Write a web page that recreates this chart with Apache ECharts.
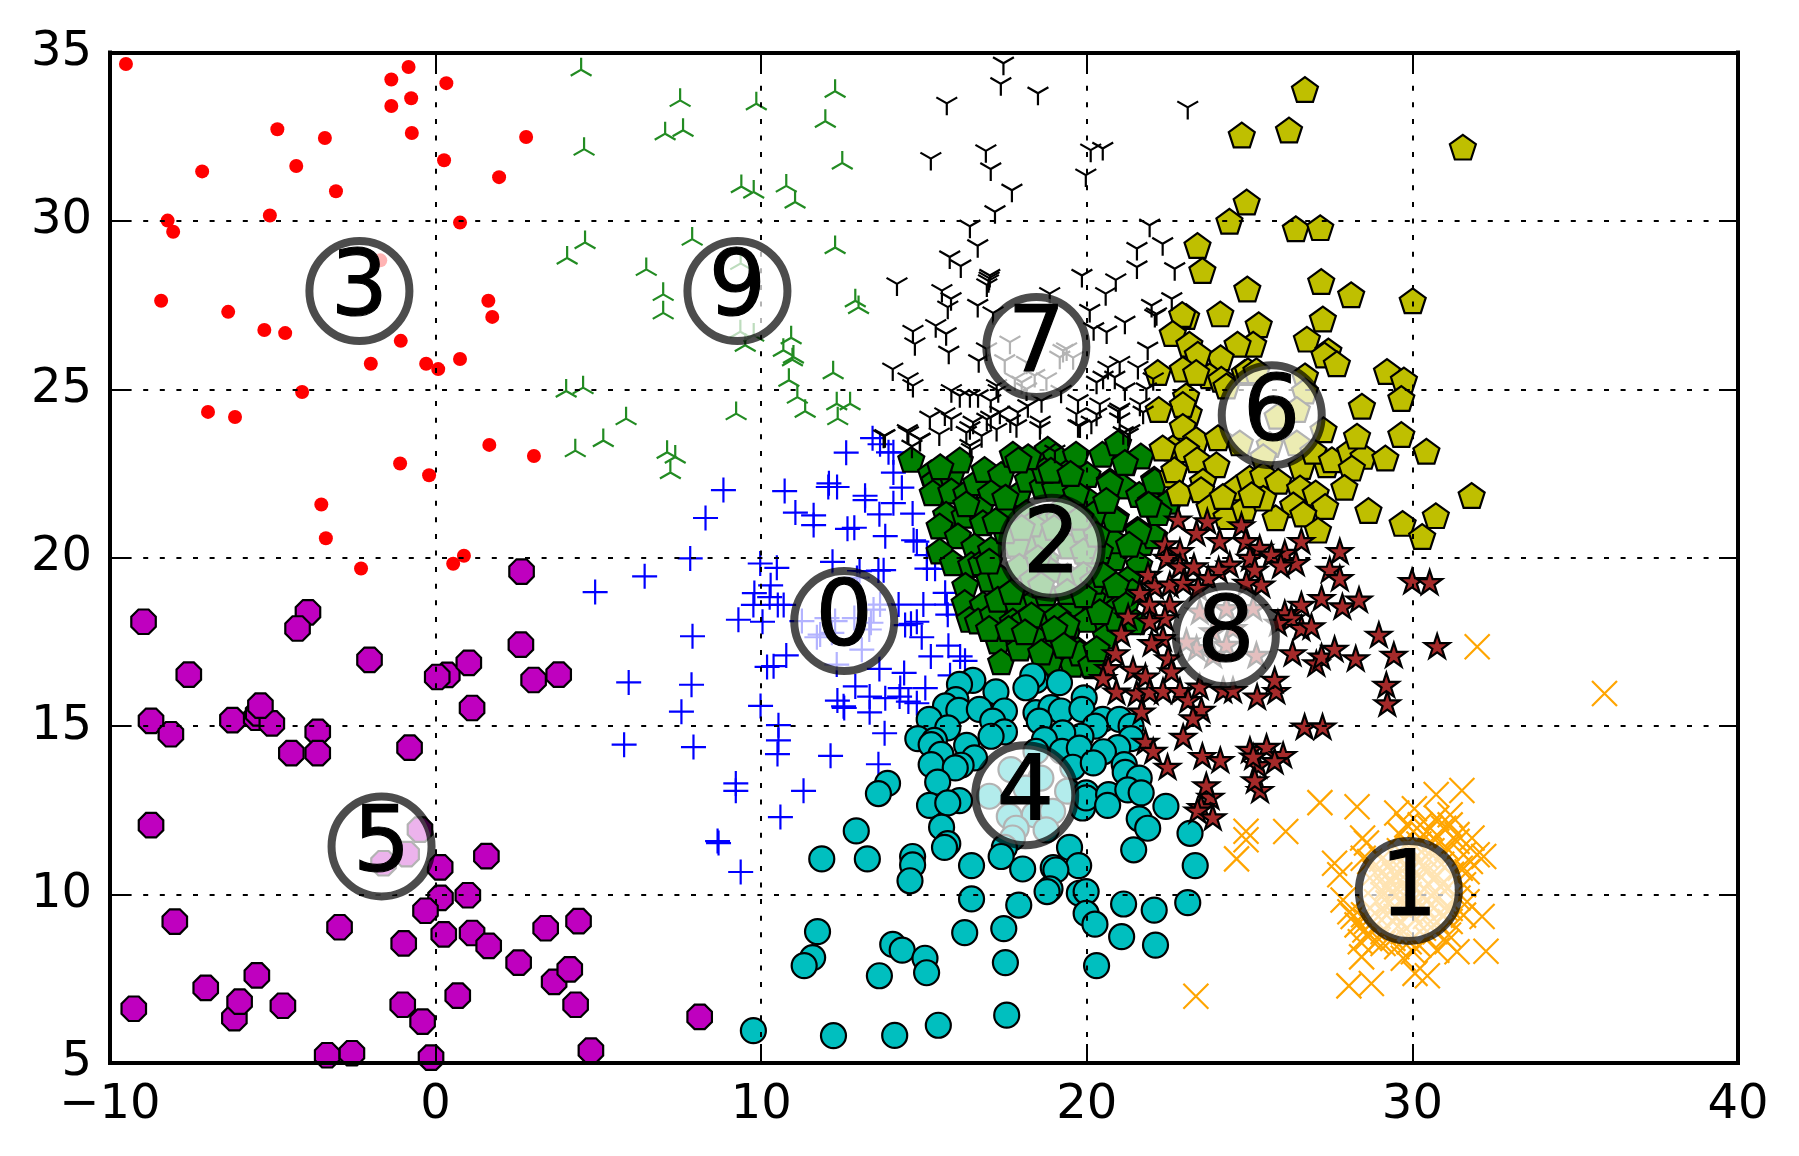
<!DOCTYPE html>
<html><head><meta charset="utf-8">
<style>html,body{margin:0;padding:0;background:#fff}#c{width:1799px;height:1156px}</style>
<script src="https://cdn.jsdelivr.net/npm/echarts@6/dist/echarts.min.js"></script>
</head><body><div id="c"></div>
<script>
const xTicks = [-10,0,10,20,30,40];
const yTicks = [5,10,15,20,25,30,35];
const cluster0 = [[8.84,22.01],[8.29,21.18],[7.82,19.98],[6.42,19.45],[4.90,18.98],[10.72,21.98],[12.61,23.12],[13.42,23.55],[13.65,23.37],[13.91,23.13],[14.06,23.13],[14.06,22.53],[14.32,22.08],[12.08,22.21],[12.33,22.10],[12.06,22.10],[13.19,21.84],[13.19,21.71],[14.06,21.62],[13.63,21.29],[14.65,21.31],[11.05,21.34],[11.61,21.26],[11.61,20.97],[12.65,20.86],[12.86,20.89],[13.81,20.64],[14.68,20.52],[14.78,20.48],[15.09,20.08],[9.97,19.83],[10.48,19.70],[12.19,19.88],[13.02,19.60],[13.60,19.62],[13.76,19.63],[15.09,19.68],[15.34,19.67],[10.29,19.18],[9.79,18.95],[10.26,18.83],[9.76,18.60],[10.51,18.60],[10.69,18.60],[9.30,18.16],[10.04,18.10],[7.89,17.67],[10.77,17.10],[10.38,16.78],[10.18,16.76],[5.93,16.30],[7.86,16.23],[7.55,15.43],[5.79,14.45],[7.92,14.38],[9.98,15.60],[10.53,15.03],[10.53,14.58],[10.50,14.17],[12.13,14.12],[13.79,14.79],[13.60,13.87],[9.22,13.30],[9.22,13.08],[11.30,13.08],[11.25,18.12],[12.02,18.21],[12.27,18.12],[12.86,18.21],[13.65,18.61],[13.45,18.46],[13.37,18.07],[13.32,17.87],[11.81,17.72],[11.71,17.64],[12.17,17.77],[13.09,17.27],[12.32,16.83],[12.94,19.40],[14.22,18.61],[14.98,18.61],[15.65,18.96],[15.70,18.61],[15.73,18.31],[14.42,18.00],[14.60,18.04],[14.78,18.10],[14.93,17.64],[15.21,17.07],[15.75,17.39],[16.11,17.07],[16.26,16.94],[15.80,16.51],[13.63,16.70],[14.39,16.58],[15.04,16.13],[12.89,16.18],[12.34,15.76],[12.53,15.59],[12.55,15.54],[13.33,15.88],[13.33,15.41],[13.81,15.83],[14.27,16.13],[14.25,15.88],[14.52,15.73],[14.78,15.68],[10.59,12.30],[8.66,11.59],[8.69,11.53],[9.37,10.67]];
const cluster1 = [[31.99,17.36],[35.90,15.97],[27.16,12.73],[28.30,12.61],[26.11,11.87],[24.89,11.88],[24.89,11.63],[24.60,11.06],[23.35,6.98],[30.73,12.97],[31.52,13.09],[29.52,12.42],[30.06,12.55],[31.16,12.37],[28.47,11.68],[28.59,11.53],[30.55,11.97],[29.83,12.07],[30.96,11.97],[31.16,12.07],[30.34,11.78],[30.70,11.63],[31.83,11.68],[31.37,11.58],[31.06,11.38],[32.19,11.13],[31.99,11.18],[31.78,10.98],[31.57,11.18],[31.68,10.68],[31.57,10.29],[27.61,10.93],[27.77,10.59],[28.49,11.08],[27.87,9.84],[28.18,9.35],[28.54,8.95],[28.64,8.75],[28.44,8.15],[28.05,7.29],[28.74,7.36],[29.72,8.11],[30.08,7.66],[30.46,7.59],[30.03,8.30],[29.52,8.45],[29.10,8.55],[30.44,8.70],[30.75,8.35],[31.06,8.60],[31.37,8.30],[31.11,8.80],[32.26,8.32],[32.14,9.35],[31.57,9.39],[31.68,9.79],[29.10,10.68],[28.90,10.29],[29.31,10.39],[29.62,10.98],[30.34,10.88],[30.75,10.59],[31.06,10.19],[30.55,9.69],[29.93,9.49],[29.21,9.39],[28.90,9.79],[30.13,10.39],[29.52,9.99],[31.16,9.59],[28.69,10.98],[28.59,9.20],[30.75,9.20],[31.47,10.78],[28.08,9.49],[31.16,9.20],[30.34,9.00],[29.72,8.90],[28.90,8.60],[30.24,12.07],[30.75,12.27],[31.37,11.78],[29.62,11.78],[28.30,9.10],[28.50,9.40],[28.80,9.00],[29.10,8.90],[29.40,8.70],[29.90,8.60],[30.20,8.50],[30.70,8.90],[29.30,10.90],[29.80,10.60],[30.10,11.10],[30.50,10.30],[30.90,10.90],[29.10,10.00],[29.70,10.30],[30.30,9.70],[30.80,9.90],[29.40,9.60],[29.90,10.00],[30.60,11.30],[30.20,11.50],[29.60,11.30],[31.20,10.60],[31.40,9.90],[31.00,9.60],[28.70,9.60],[28.40,8.60],[29.20,10.20],[29.35,10.05],[29.45,10.60],[29.55,10.15],[29.75,9.75],[29.85,10.85],[30.00,10.25],[30.05,9.70],[30.20,10.60],[30.25,10.05],[30.40,9.35],[30.45,10.70],[30.60,9.95],[30.65,10.45],[29.25,9.75],[29.50,9.35],[29.65,9.15],[30.10,9.25],[28.95,9.35],[28.85,10.65],[29.05,11.05],[30.85,10.25],[30.95,9.35],[29.95,11.35],[30.40,11.15]];
const cluster2 = [[14.61,22.92],[15.22,22.52],[15.32,22.28],[15.84,22.47],[15.27,21.93],[15.84,21.98],[16.30,21.93],[16.60,22.23],[16.86,22.62],[17.37,22.47],[17.73,23.07],[17.06,21.93],[17.88,21.88],[18.19,22.33],[15.68,21.29],[16.25,21.26],[15.48,20.94],[16.71,21.44],[16.81,21.04],[17.58,21.34],[16.04,20.65],[15.48,20.20],[16.55,20.35],[15.89,19.85],[16.45,19.80],[16.76,19.85],[17.06,20.25],[17.01,19.36],[17.37,19.41],[16.27,19.18],[16.25,18.67],[16.81,18.62],[16.40,18.17],[16.66,18.12],[17.12,18.32],[17.27,18.77],[17.83,18.72],[17.73,18.12],[18.09,18.17],[17.27,17.53],[17.93,17.40],[18.50,17.58],[17.37,16.91],[18.45,18.77],[18.75,18.37],[18.75,18.96],[18.80,23.22],[18.65,22.13],[18.14,21.34],[18.34,20.55],[17.83,20.40],[17.93,19.75],[18.34,19.36],[18.75,21.04],[18.75,19.95],[19.05,23.02],[19.67,23.07],[20.48,23.07],[21.20,22.82],[21.66,23.02],[20.96,23.41],[19.36,22.52],[20.02,22.47],[20.71,22.28],[21.10,22.13],[22.07,22.33],[19.03,22.08],[20.02,21.73],[19.67,21.93],[21.61,21.88],[20.89,21.19],[21.56,20.84],[22.17,21.34],[21.97,21.68],[22.53,21.68],[20.84,20.00],[20.84,20.50],[21.71,20.45],[21.61,19.80],[22.07,20.65],[21.25,19.36],[20.69,18.86],[20.18,18.81],[19.56,18.62],[19.10,18.27],[19.46,17.97],[20.02,18.17],[20.64,17.97],[21.00,18.57],[20.59,17.68],[19.05,17.48],[19.72,17.28],[19.56,16.84],[18.85,16.89],[20.18,16.79],[19.15,21.19],[19.46,20.35],[18.74,20.55],[19.87,20.84],[19.41,19.46],[18.85,19.66],[20.07,19.85],[18.70,22.60],[21.17,22.83],[20.71,22.23],[22.09,22.28],[22.20,21.34],[21.58,20.79],[21.90,21.59],[20.86,21.14],[17.94,17.32],[19.79,17.17],[20.14,16.83],[19.38,18.02],[17.50,20.80],[16.30,21.60],[19.00,17.90],[17.00,19.90],[17.70,19.00],[18.30,18.30],[17.00,17.90],[17.60,17.90],[18.10,17.80],[18.60,17.20],[19.30,17.40],[20.30,17.30],[20.90,18.20],[21.40,19.00],[21.30,20.40],[20.40,20.20],[20.20,21.30],[20.60,21.70],[18.20,23.00],[18.90,22.60],[19.50,22.50],[16.10,22.90],[15.50,22.70],[19.30,21.50],[19.80,21.20],[18.30,21.00],[18.50,20.00],[19.00,20.90],[19.90,20.20],[19.90,19.50],[19.40,19.00],[18.60,19.20],[18.00,20.90],[20.30,20.70],[20.20,19.30],[17.50,21.80],[17.20,21.10],[17.90,22.90],[20.50,19.50],[20.90,19.20],[21.20,18.60],[20.40,18.40],[19.90,18.90],[21.50,18.10]];
const cluster3 = [[-9.51,34.66],[-0.83,34.57],[-1.36,34.20],[0.33,34.09],[-0.75,33.64],[-1.36,33.41],[-4.86,32.72],[-3.40,32.46],[-0.73,32.61],[2.78,32.49],[0.26,31.80],[-4.28,31.63],[-7.17,31.47],[1.95,31.30],[-3.06,30.88],[-5.09,30.16],[-8.23,30.01],[-8.06,29.68],[0.75,29.95],[-1.70,28.83],[-8.43,27.63],[1.62,27.63],[1.74,27.15],[-6.37,27.30],[-5.26,26.76],[-4.62,26.67],[-1.07,26.44],[-1.99,25.76],[-0.29,25.76],[0.08,25.60],[0.75,25.90],[-4.10,24.92],[-6.99,24.33],[-6.16,24.18],[1.65,23.35],[3.02,23.02],[-1.09,22.80],[-0.20,22.45],[-3.51,21.58],[-3.37,20.58],[-2.29,19.68],[0.87,20.06],[0.54,19.82]];
const cluster4 = [[16.50,16.36],[17.21,16.02],[16.09,16.24],[18.44,16.36],[18.34,16.49],[19.16,16.29],[18.13,16.14],[15.98,15.79],[15.66,15.60],[16.07,15.47],[16.70,15.50],[17.47,15.45],[18.44,15.40],[18.90,15.55],[19.21,15.45],[19.92,15.84],[19.85,15.50],[20.49,15.20],[21.00,15.20],[18.54,15.15],[20.26,15.00],[15.16,15.20],[17.11,15.15],[17.47,14.83],[17.06,14.70],[15.73,14.95],[21.36,15.00],[21.36,14.63],[14.81,14.63],[15.32,14.58],[15.22,14.45],[16.31,14.43],[19.82,14.70],[19.26,14.80],[18.70,14.60],[18.44,14.25],[19.24,14.25],[19.77,14.35],[20.95,14.36],[20.51,14.24],[15.52,14.16],[16.55,14.06],[15.22,13.86],[16.14,13.84],[15.96,13.76],[19.57,13.78],[20.20,13.91],[21.15,13.86],[21.18,13.63],[21.61,13.46],[15.42,13.34],[17.67,13.71],[18.59,13.46],[17.01,12.92],[17.62,12.32],[18.39,12.37],[18.95,12.47],[17.83,11.97],[18.75,11.92],[19.41,13.07],[18.13,13.16],[17.72,11.68],[19.98,13.02],[19.87,12.57],[19.98,12.87],[20.67,12.97],[21.26,13.11],[21.67,13.02],[15.17,12.65],[16.09,12.79],[15.73,12.72],[20.64,12.65],[22.43,12.62],[21.61,12.25],[21.87,11.97],[23.17,11.82],[15.54,12.00],[15.73,11.51],[15.63,11.40],[19.47,11.40],[17.47,11.40],[17.37,11.13],[21.44,11.33],[19.75,10.86],[18.97,10.80],[19.05,10.73],[18.03,10.76],[16.46,10.86],[23.33,10.86],[14.65,11.13],[14.65,10.88],[14.57,10.41],[18.87,10.17],[18.78,10.09],[19.77,10.04],[19.98,10.09],[16.46,9.87],[21.13,9.72],[17.91,9.69],[19.98,9.44],[20.25,9.12],[22.07,9.54],[23.10,9.76],[17.45,8.99],[16.25,8.87],[21.07,8.75],[22.11,8.50],[17.50,7.98],[20.30,7.89],[14.04,8.52],[14.33,8.35],[15.03,8.11],[15.08,7.68],[13.63,7.59],[15.44,6.12],[14.10,5.82],[17.54,6.42],[13.88,13.30],[13.60,13.00],[12.92,11.89],[11.86,11.06],[13.26,11.06],[11.73,8.90],[11.58,8.13],[11.32,7.89],[9.76,5.96],[12.22,5.81]];
const cluster5 = [[2.64,19.59],[-8.97,18.10],[-3.92,18.38],[-4.24,17.90],[-2.03,16.97],[-7.58,16.53],[0.36,16.52],[0.05,16.46],[1.02,16.88],[2.62,17.42],[3.01,16.37],[3.78,16.53],[1.12,15.54],[-8.74,15.16],[-8.13,14.76],[-6.24,15.18],[-5.51,15.25],[-5.45,15.38],[-5.03,15.08],[-5.38,15.61],[-3.62,14.83],[-4.43,14.20],[-3.62,14.20],[-0.80,14.36],[-8.74,12.06],[-0.48,11.93],[-0.89,11.20],[-1.60,10.93],[0.14,10.81],[1.56,11.14],[0.15,9.90],[0.99,9.98],[-0.31,9.52],[-8.01,9.20],[-2.95,9.03],[0.25,8.82],[1.12,8.86],[-0.98,8.55],[1.63,8.48],[3.38,9.00],[4.39,9.21],[2.55,7.98],[3.64,7.41],[4.12,7.78],[4.30,6.73],[0.68,7.00],[-1.01,6.73],[-0.40,6.23],[-5.49,7.60],[-7.06,7.23],[-6.18,6.33],[-6.02,6.82],[-4.69,6.70],[-9.27,6.61],[-3.33,5.23],[-2.57,5.29],[-0.14,5.16],[4.77,5.37],[8.11,6.37]];
const cluster6 = [[26.70,33.90],[24.76,32.55],[26.21,32.70],[31.55,32.19],[24.91,30.56],[24.38,29.99],[26.42,29.77],[27.17,29.80],[23.40,29.27],[23.55,28.53],[24.93,27.98],[27.20,28.20],[28.12,27.81],[30.01,27.63],[27.25,27.09],[23.05,27.16],[22.93,27.22],[24.10,27.24],[25.28,26.92],[26.76,26.49],[22.64,26.66],[23.15,26.34],[25.11,26.34],[24.63,26.34],[24.11,25.94],[23.41,26.04],[27.42,26.14],[27.30,26.02],[27.68,25.76],[29.22,25.53],[29.74,25.28],[29.66,24.73],[28.45,24.50],[22.95,25.60],[23.77,25.40],[23.36,25.50],[22.18,25.50],[24.13,25.30],[24.29,25.10],[24.85,25.50],[24.95,25.55],[25.21,25.55],[26.70,25.40],[26.70,24.95],[26.45,24.40],[25.86,24.20],[27.27,23.80],[24.70,23.41],[25.62,23.36],[26.45,23.41],[25.42,23.00],[23.05,24.80],[23.13,24.30],[22.95,24.55],[22.21,24.40],[22.95,23.90],[23.36,23.51],[24.03,23.56],[22.64,23.26],[23.05,23.21],[23.39,22.91],[23.98,22.76],[22.64,22.46],[22.69,22.61],[23.57,22.27],[22.85,21.92],[23.51,22.02],[24.59,22.07],[25.00,22.36],[25.42,22.46],[25.88,22.27],[26.60,22.71],[27.37,22.76],[26.96,23.16],[27.53,22.91],[28.09,23.16],[28.50,23.01],[28.30,23.61],[29.66,23.66],[29.17,22.96],[30.43,23.16],[28.14,22.66],[27.91,22.09],[26.55,22.07],[27.03,21.92],[27.32,21.52],[26.34,21.57],[26.65,21.30],[25.80,21.19],[27.10,20.82],[28.65,21.40],[29.70,21.02],[30.72,21.25],[30.30,20.63],[31.82,21.85],[23.77,21.50],[24.29,21.22],[24.85,21.47],[25.42,21.77],[25.06,21.87],[24.18,21.82],[22.33,23.26]];
const cluster7 = [[17.44,34.74],[17.36,34.13],[18.50,33.85],[15.70,33.55],[23.10,33.43],[16.90,32.14],[15.21,31.91],[20.12,32.16],[20.49,32.21],[17.05,31.60],[19.97,31.42],[17.70,30.97],[17.18,30.33],[16.41,29.90],[21.93,29.93],[16.65,29.32],[21.54,29.24],[22.33,29.38],[15.79,28.99],[16.13,28.72],[21.54,28.69],[22.70,28.64],[17.02,28.44],[17.00,28.36],[16.98,28.28],[16.93,28.16],[19.85,28.44],[20.89,28.31],[14.17,28.19],[15.55,27.99],[20.58,27.90],[15.83,27.75],[15.73,27.50],[16.65,27.55],[18.86,27.90],[17.12,27.33],[20.09,27.40],[21.99,27.55],[22.61,27.75],[22.14,27.30],[22.09,27.25],[15.36,26.95],[15.68,26.71],[14.66,26.78],[14.72,26.41],[20.21,26.86],[20.61,26.76],[21.17,27.05],[15.76,26.16],[16.68,25.91],[21.87,26.28],[14.04,25.66],[14.51,25.37],[14.66,25.17],[17.64,26.46],[16.92,26.26],[17.48,25.91],[18.15,25.86],[19.27,26.21],[19.17,26.01],[19.38,26.26],[17.79,25.37],[18.00,25.27],[18.76,25.37],[18.40,25.47],[19.58,26.00],[17.23,25.17],[18.15,25.07],[21.01,25.86],[20.65,25.71],[21.57,25.71],[20.86,25.42],[20.50,25.42],[20.30,25.27],[21.17,25.07],[21.83,25.07],[22.04,25.37],[15.84,25.02],[16.10,24.87],[16.66,24.87],[16.41,24.87],[17.28,25.02],[15.18,24.23],[15.64,24.33],[15.84,24.18],[16.51,24.08],[17.05,24.72],[17.05,24.23],[17.33,24.38],[17.88,24.38],[18.19,24.57],[18.57,24.08],[18.61,24.72],[19.21,25.00],[19.73,24.72],[19.68,24.33],[19.73,23.98],[20.14,24.08],[20.40,24.62],[21.01,24.47],[21.01,24.18],[21.73,24.38],[21.63,24.62],[21.32,23.83],[17.84,23.98],[13.80,23.68],[14.49,23.83],[14.87,23.58],[16.77,23.68],[15.47,23.73],[16.30,23.78],[17.23,23.87],[13.76,23.67],[14.52,23.77],[14.88,23.57],[14.63,23.37],[16.41,23.92],[16.46,23.27],[16.41,23.39],[16.93,24.17],[17.65,24.12],[18.56,23.92],[20.30,24.32],[20.96,24.41],[19.79,23.97],[21.12,23.77],[21.27,23.72],[19.02,23.22]];
const cluster8 = [[22.80,21.14],[23.70,21.09],[24.75,20.97],[23.37,20.74],[24.08,20.50],[24.88,20.50],[22.40,20.40],[22.86,20.20],[25.31,20.30],[26.59,20.50],[26.08,20.15],[25.67,20.10],[27.77,20.20],[26.42,19.85],[25.96,19.78],[25.01,20.00],[24.39,19.80],[22.45,20.00],[22.86,19.75],[23.29,19.75],[24.05,19.65],[25.16,19.65],[27.46,19.65],[27.77,19.40],[23.73,19.40],[21.88,19.50],[22.09,19.16],[22.55,19.21],[22.96,19.26],[23.42,19.11],[21.63,18.96],[25.36,19.21],[24.90,19.26],[29.99,19.31],[30.53,19.28],[30.76,17.38],[27.21,18.81],[26.59,18.61],[27.85,18.56],[28.36,18.76],[21.93,18.61],[22.55,18.61],[21.27,18.26],[22.40,18.21],[21.93,18.12],[26.08,18.36],[26.28,18.21],[25.87,18.07],[26.59,17.92],[26.90,17.97],[21.06,17.75],[22.34,17.62],[21.99,17.47],[20.89,17.17],[22.50,17.02],[26.32,17.17],[27.05,16.87],[27.21,17.07],[27.61,17.30],[28.26,17.02],[28.97,17.72],[29.43,17.12],[21.42,16.68],[20.66,16.73],[21.80,16.48],[22.60,16.63],[20.50,16.43],[20.91,16.03],[21.53,15.98],[21.93,16.03],[22.34,16.05],[22.86,16.05],[23.11,15.78],[23.47,16.18],[23.52,15.49],[23.26,15.24],[21.68,15.44],[24.19,16.08],[24.49,16.08],[25.23,15.88],[25.82,16.05],[25.77,16.38],[29.23,15.68],[29.20,16.23],[26.69,14.99],[27.24,14.99],[22.96,14.69],[21.80,14.54],[22.04,14.27],[22.48,13.80],[23.55,14.12],[24.10,14.00],[25.01,14.30],[25.52,14.39],[26.03,14.15],[25.26,13.85],[25.77,13.97],[25.11,14.10],[25.32,13.11],[25.16,13.40],[23.80,12.91],[23.67,13.25],[23.51,12.60],[23.40,12.50],[23.87,12.30],[23.37,17.32],[23.88,17.82],[24.49,17.92],[25.11,18.51],[23.47,18.41],[24.29,17.42],[25.21,17.12],[23.88,17.12],[24.29,18.51],[23.06,17.52]];
const cluster9 = [[4.47,34.49],[7.51,33.58],[12.27,33.85],[9.85,33.48],[11.97,32.96],[7.05,32.59],[7.60,32.69],[4.56,32.13],[12.49,31.72],[9.39,31.02],[9.77,30.86],[10.77,31.04],[11.04,30.56],[7.88,29.46],[4.59,29.36],[4.04,28.90],[12.27,29.21],[6.47,28.56],[6.99,27.82],[6.99,27.27],[9.37,28.74],[9.36,26.71],[9.77,26.61],[9.51,26.31],[10.92,26.53],[10.68,26.16],[10.99,25.96],[10.96,25.88],[12.89,27.63],[12.99,27.43],[12.21,25.49],[10.85,25.27],[11.11,24.77],[11.35,24.35],[12.32,24.57],[12.73,24.57],[12.35,24.13],[4.01,24.95],[4.53,25.05],[5.85,24.13],[5.15,23.48],[4.29,23.18],[7.11,23.13],[7.36,22.99],[9.23,24.28],[7.21,22.53]];
const centerX = [12.55,29.89,18.92,-2.34,18.11,-1.66,25.68,18.45,24.27,9.27];
const centerY = [18.12,10.11,20.30,27.92,12.95,11.43,24.23,26.26,17.67,27.92];
const centerLabels = ['0','1','2','3','4','5','6','7','8','9'];

const P = {
  plus:'path://M0 -100L0 100M-100 0L100 0',
  cross:'path://M-100 -100L100 100M-100 100L100 -100',
  triUp:'path://M0 -100L0 0L-87 50M0 0L87 50M0 100L0.01 100',
  triDown:'path://M0 100L0 0L-87 -50M0 0L87 -50M0 -100L0.01 -100',
  pentagon:'path://M0 -100L95.1 -30.9L58.8 80.9L-58.8 80.9L-95.1 -30.9Z',
  star:'path://M0 -100L22.4 -30.9L95.1 -30.9L36.3 11.8L58.8 80.9L0 38.2L-58.8 80.9L-36.3 11.8L-95.1 -30.9L-22.4 -30.9Z',
  octagon:'path://M-41.4 -100L41.4 -100L100 -41.4L100 41.4L41.4 100L-41.4 100L-100 41.4L-100 -41.4Z'
};
function s(data,symbol,size,fill,stroke,bw,offset){
  return {type:'scatter',data,symbol,symbolSize:size,symbolKeepAspect:true,symbolOffset:offset||[0,0],z:2,silent:true,clip:true,
    itemStyle:{color:fill,borderColor:stroke,borderWidth:bw,opacity:1}};
}
const series = [
  s(cluster0,P.plus,25,'transparent','#0000ff',2.2),
  s(cluster1,P.cross,25,'transparent','#ffa500',2.2),
  s(cluster2,P.pentagon,26,'#008000','#000',2.2),
  s(cluster3,'circle',14,'#ff0000','#ff0000',0),
  s(cluster4,'circle',25,'#00bfbf','#000',2.2),
  s(cluster5,P.octagon,24.5,'#bf00bf','#000',2.2),
  s(cluster6,P.pentagon,26,'#bfbf00','#000',2.2),
  s(cluster7,P.triDown,24,'transparent','#000',2.2,[0,2]),
  s(cluster8,P.star,25,'#a52a2a','#000',2.2),
  s(cluster9,P.triUp,24,'transparent','#228b22',2.2),
  {type:'scatter',z:4,silent:true,clip:true,symbol:'circle',symbolSize:100,
   data:centerX.map((x,i)=>[x,centerY[i],centerLabels[i]]),
   itemStyle:{color:'rgba(255,255,255,0.7)',borderColor:'rgba(0,0,0,0.7)',borderWidth:8,opacity:1},
   label:{show:true,position:'inside',offset:[0,1],formatter:p=>p.data[2],color:'#000',fontSize:90,fontFamily:'DejaVu Sans',textBorderColor:'#000',textBorderWidth:1.2}}
];
const tickFmt = v=>String(v).replace('-','\u2212');
const F = 'DejaVu Sans';
const line = {show:true,onZero:false,lineStyle:{color:'#000',width:4,cap:'square'}};
const tick = {show:true,inside:true,length:19,lineStyle:{color:'#000',width:2}};
const split = {show:true,lineStyle:{color:'#000',width:2,type:[5,11.6]}};
const xBase = {type:'value',min:xTicks[0],max:xTicks[xTicks.length-1],interval:xTicks[1]-xTicks[0],z:3,axisLine:line,axisTick:tick};
const yBase = {type:'value',min:yTicks[0],max:yTicks[yTicks.length-1],interval:yTicks[1]-yTicks[0],z:3,axisLine:line,axisTick:tick};
const chart = echarts.init(document.getElementById('c'),null,{renderer:'canvas',width:1799,height:1156});
chart.setOption({
  animation:false,backgroundColor:'#fff',tooltip:{show:false},
  grid:{left:110,right:61,top:52.5,bottom:93,containLabel:false},
  xAxis:[
    Object.assign({},xBase,{position:'bottom',splitLine:split,
      axisLabel:{show:true,margin:19,fontSize:48,fontFamily:F,color:'#000',formatter:tickFmt,hideOverlap:false}}),
    Object.assign({},xBase,{position:'top',splitLine:{show:false},axisLabel:{show:false}})
  ],
  yAxis:[
    Object.assign({},yBase,{position:'left',splitLine:split,
      axisLabel:{show:true,margin:18,fontSize:48,fontFamily:F,color:'#000',formatter:tickFmt,hideOverlap:false}}),
    Object.assign({},yBase,{position:'right',splitLine:{show:false},axisLabel:{show:false}})
  ],
  series
});
</script></body></html>
